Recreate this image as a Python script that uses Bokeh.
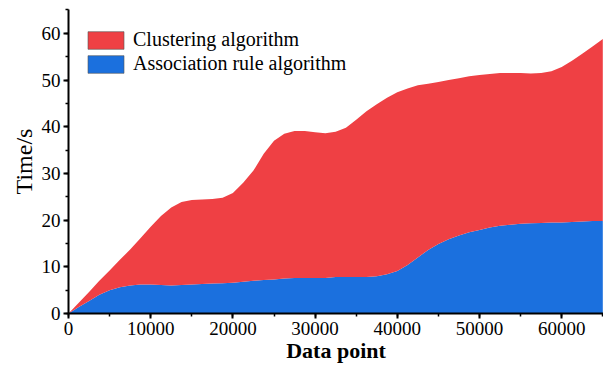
from bokeh.plotting import figure
from bokeh.models import ColumnDataSource, SingleIntervalTicker, NumeralTickFormatter, Range1d, Legend, LegendItem
from bokeh.embed import file_html
from bokeh.resources import INLINE

# Data
data_points = [0, 1250, 2500, 3750, 5000, 6250, 7500, 8750, 10000, 11250, 12500,
               13750, 15000, 16250, 17500, 18750, 20000, 21250, 22500, 23750, 25000,
               26250, 27500, 28750, 30000, 31250, 32500, 33750, 35000, 36250, 37500,
               38750, 40000, 41250, 42500, 43750, 45000, 46250, 47500, 48750, 50000,
               51250, 52500, 53750, 55000, 56250, 57500, 58750, 60000, 61250, 62500,
               63750, 65000]
association_rule = [0, 1.4, 2.7, 4.0, 5.0, 5.6, 6.0, 6.2, 6.2, 6.1, 6.0,
                    6.1, 6.2, 6.3, 6.4, 6.5, 6.6, 6.8, 7.0, 7.2, 7.3,
                    7.5, 7.6, 7.6, 7.6, 7.6, 7.8, 7.8, 7.8, 7.8, 8.0,
                    8.4, 9.1, 10.4, 12.0, 13.6, 14.9, 15.9, 16.7, 17.4, 17.9,
                    18.4, 18.8, 19.0, 19.2, 19.3, 19.4, 19.5, 19.5, 19.6, 19.7,
                    19.8, 19.8]
total_time = [0, 2.3, 4.6, 7.0, 9.2, 11.5, 13.7, 16.1, 18.6, 20.9, 22.7,
              23.9, 24.3, 24.4, 24.5, 24.8, 25.8, 28.0, 30.6, 34.2, 37.0,
              38.5, 39.1, 39.1, 38.8, 38.6, 38.9, 39.8, 41.5, 43.3, 44.8,
              46.2, 47.4, 48.2, 48.9, 49.2, 49.6, 50.0, 50.4, 50.8, 51.1,
              51.3, 51.5, 51.5, 51.5, 51.4, 51.5, 51.9, 52.8, 54.1, 55.6,
              57.2, 58.8]
clustering = [t - a for t, a in zip(total_time, association_rule)]

series_names = ["Association rule algorithm", "Clustering algorithm"]
x_ticks_interval = 10000
y_ticks_interval = 10

source = ColumnDataSource(dict(x=data_points, assoc=association_rule, clus=clustering))

FONT = "Liberation Serif"
RED = "#EF4044"
BLUE = "#1B70DE"

p = figure(width=603, height=366, output_backend="svg", toolbar_location=None,
           x_range=Range1d(0, 65085), y_range=Range1d(0, 65.1),
           min_border_left=68, min_border_right=0, min_border_top=9, min_border_bottom=53)

rs = p.varea_stack(stackers=["assoc", "clus"], x="x", color=[BLUE, RED], source=source)

# legend swatches: renderers with NaN data, drawn only in the legend
nan = float("nan")
swatch_src = ColumnDataSource(dict(l=[nan], r=[nan], b=[nan], t=[nan]))
sw_red = p.quad(left="l", right="r", bottom="b", top="t", source=swatch_src,
                fill_color=RED, line_color="#555555", line_alpha=0.6, line_width=1)
sw_blue = p.quad(left="l", right="r", bottom="b", top="t", source=swatch_src,
                 fill_color=BLUE, line_color="#555555", line_alpha=0.6, line_width=1)

p.outline_line_color = None
p.xgrid.visible = False
p.ygrid.visible = False
p.background_fill_color = "white"
p.border_fill_color = "white"

for ax in (p.xaxis[0], p.yaxis[0]):
    ax.axis_line_color = "black"
    ax.axis_line_width = 2
    ax.major_tick_line_color = "black"
    ax.major_tick_line_width = 2
    ax.minor_tick_line_color = "black"
    ax.minor_tick_line_width = 1.5
    ax.major_tick_out = 5
    ax.major_tick_in = 0
    ax.minor_tick_out = 3
    ax.minor_tick_in = 0
    ax.major_label_text_font = FONT
    ax.major_label_text_font_size = "19px"
    ax.major_label_text_color = "black"
    ax.axis_label_text_font = FONT
    ax.axis_label_text_color = "black"

p.xaxis.ticker = SingleIntervalTicker(interval=x_ticks_interval, num_minor_ticks=2)
p.yaxis.ticker = SingleIntervalTicker(interval=y_ticks_interval, num_minor_ticks=2)
p.xaxis.formatter = NumeralTickFormatter(format="0")
p.yaxis.formatter = NumeralTickFormatter(format="0")
p.xaxis.major_label_standoff = 3
p.yaxis.major_label_standoff = 3

p.xaxis.axis_label = "Data point"
p.xaxis.axis_label_text_font_style = "bold"
p.xaxis.axis_label_text_font_size = "22px"
p.xaxis.axis_label_standoff = 0
p.yaxis.axis_label = "Time/s"
p.yaxis.axis_label_text_font_style = "normal"
p.yaxis.axis_label_text_font_size = "24px"
p.yaxis.axis_label_standoff = 2

legend = Legend(items=[LegendItem(label=series_names[1], renderers=[sw_red]),
                       LegendItem(label=series_names[0], renderers=[sw_blue])],
                location=(15, 238), padding=0, margin=0, spacing=1,
                glyph_width=45, glyph_height=22, label_standoff=5,
                label_text_font=FONT, label_text_font_size="20px",
                label_text_color="black",
                label_height=22, border_line_color=None, background_fill_alpha=0)
p.add_layout(legend)

open("out.html", "w").write(file_html(p, INLINE))
